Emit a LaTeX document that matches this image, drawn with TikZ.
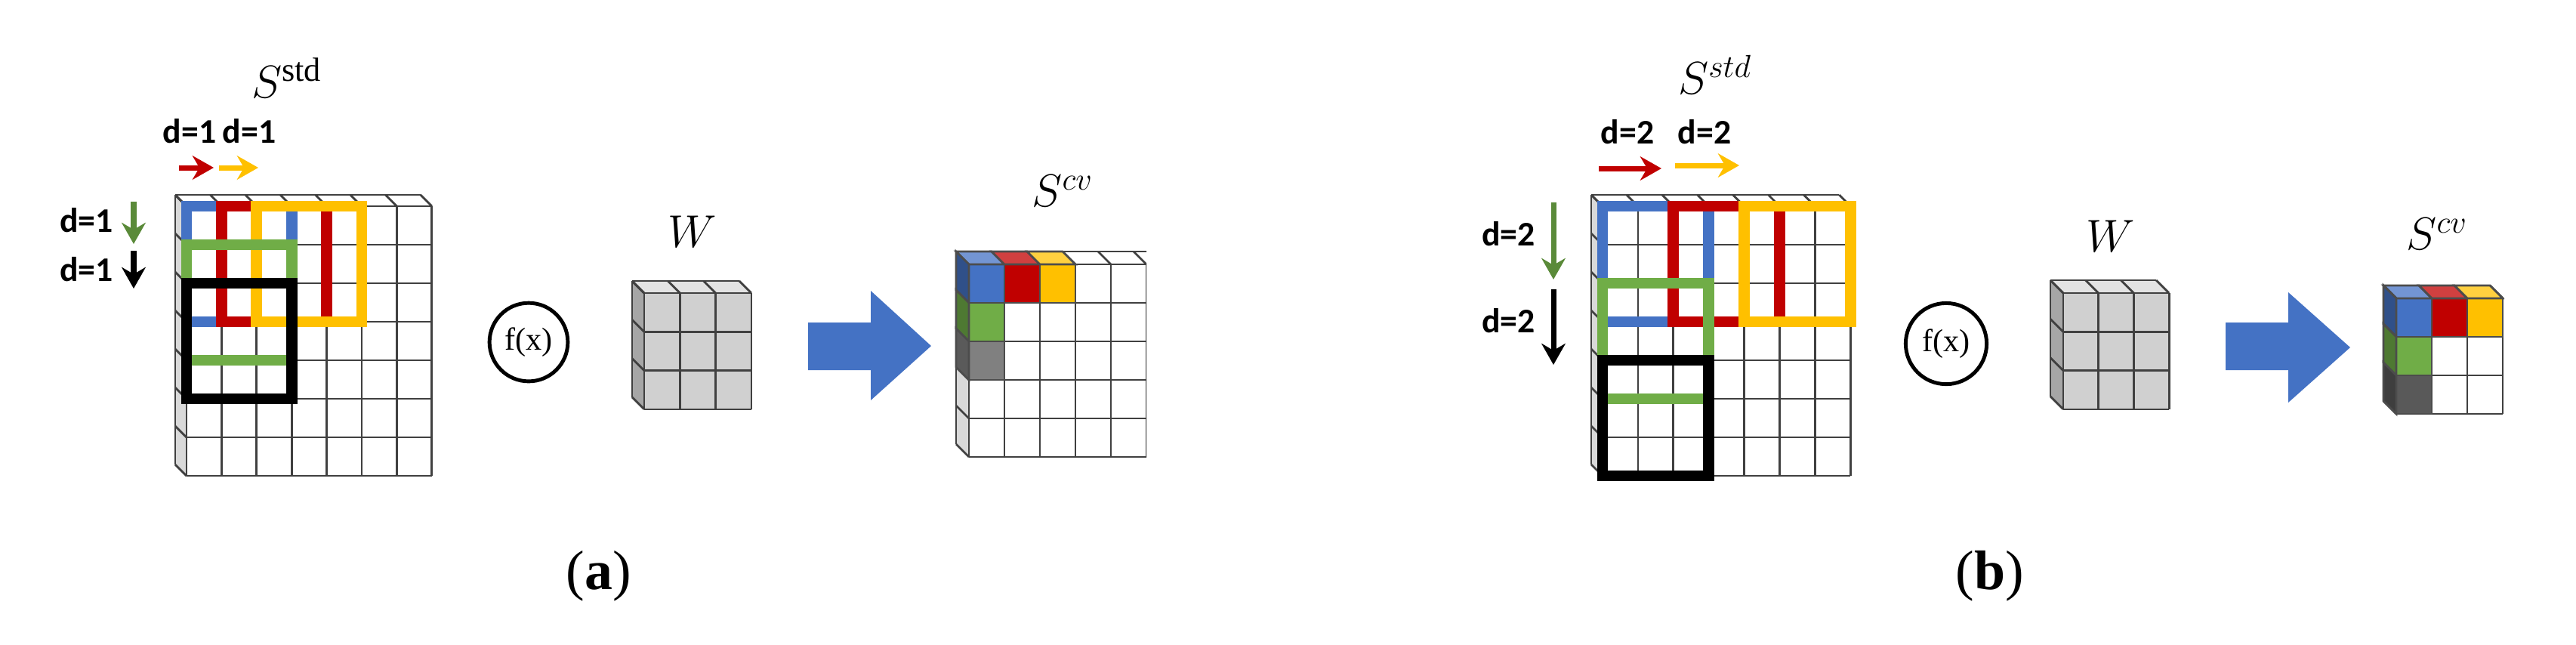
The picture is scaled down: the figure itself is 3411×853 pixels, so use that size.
\documentclass[tikz,border=0pt]{standalone}
\usepackage{fontspec}
\setmainfont{Liberation Serif}
\newfontfamily\labfont{Carlito}
\definecolor{cblue}{HTML}{4472C4}
\definecolor{cred}{HTML}{C00000}
\definecolor{cyel}{HTML}{FFC000}
\definecolor{cgreen}{HTML}{70AD47}
\definecolor{cgray}{HTML}{808080}
\definecolor{cdark}{HTML}{595959}
\definecolor{wgray}{HTML}{D0D0D0}
\tikzset{
  gl/.style={draw=black!75,line width=0.8pt},
  win/.style={line width=4.2pt},
  dlab/.style={font=\labfont\bfseries\fontsize{13}{14}\selectfont},
  slab/.style={font=\fontsize{18}{20}\selectfont},
  caplab/.style={font=\fontsize{21}{24}\selectfont},
  darr/.style={line width=2pt,-{Stealth[length=8pt,width=9pt]}},
  fcirc/.style={draw,circle,line width=1.4pt,inner sep=0pt,font=\fontsize{12}{12}\selectfont},
  bigarrow/.style={fill=cblue}
}
\usetikzlibrary{arrows.meta}
% x0 y0 ncol nrow cw rh depth sidefill frontfill
\newcommand\cgrid[9]{%
  \fill[#8] (#1,#2) -- ++(-#7,-#7) -- ++(0,#4*#6) -- (#1,#2+#4*#6) -- cycle;
  \fill[#9!60!white] (#1,#2) -- ++(-#7,-#7) -- ++(#3*#5,0) -- (#1+#3*#5,#2) -- cycle;
  \fill[#9] (#1,#2) rectangle (#1+#3*#5,#2+#4*#6);
  \foreach \i in {0,...,#3}{\draw[gl] (#1+\i*#5,#2) -- ++(0,#4*#6);
    \draw[gl] (#1+\i*#5,#2) -- ++(-#7,-#7);}
  \foreach \j in {0,...,#4}{\draw[gl] (#1,#2+\j*#6) -- ++(#3*#5,0);
    \draw[gl] (#1,#2+\j*#6) -- ++(-#7,-#7);}
  \draw[gl] (#1-#7,#2-#7) -- ++(#3*#5,0);
  \draw[gl] (#1-#7,#2-#7) -- ++(0,#4*#6);
}
% colored cube cell: x y w h d color top? side?
\newcommand\ccell[8]{%
  \filldraw[fill=#6,draw=black!70,line width=0.8pt] (#1,#2) rectangle ++(#3,#4);
  \ifnum#7=1 \filldraw[fill=#6!75!white,draw=black!70,line width=0.8pt] (#1,#2) -- ++(-#5,-#5) -- ++(#3,0) -- (#1+#3,#2) -- cycle;\fi
  \ifnum#8=1 \filldraw[fill=#6!70!black,draw=black!70,line width=0.8pt] (#1,#2) -- ++(-#5,-#5) -- ++(0,#4) -- (#1,#2+#4) -- cycle;\fi
}
\begin{document}
\begin{tikzpicture}[x=0.01cm,y=-0.01cm]
\useasboundingbox (0,0) rectangle (3411,853);
% ================= (a) =================
\cgrid{247}{273}{7}{7}{46.4}{51}{15}{black!15}{white}
\draw[win,cblue] (247,273) rectangle (386.2,426);
\draw[win,cred] (293.4,273) rectangle (432.6,426);
\draw[win,cyel] (339.8,273) rectangle (479,426);
\draw[win,cgreen] (247,324) rectangle (386.2,477);
\draw[win,black] (247,375) rectangle (386.2,528);
\node[slab] (sa) at (380,103) {$S^{\mathrm{std}}$};
\node[dlab] (da1) at (251,174) {d=1};
\node[dlab] (da2) at (330,174) {d=1};
\coordinate (ra1) at (237,222); \coordinate (ra2) at (283,222);
\coordinate (ya1) at (290,222); \coordinate (ya2) at (342,222);
\draw[darr,cred] (ra1) -- (ra2);
\draw[darr,cyel] (ya1) -- (ya2);
\node[dlab,anchor=east] (dva1) at (162,292) {d=1};
\node[dlab,anchor=east] (dva2) at (162,357) {d=1};
\coordinate (ga1) at (177,267); \coordinate (ga2) at (177,323);
\coordinate (ka1) at (177,332); \coordinate (ka2) at (177,382);
\draw[darr,cgreen!80!black] (ga1) -- (ga2);
\draw[darr,black] (ka1) -- (ka2);
\node[fcirc,minimum size=29.5pt] (fa) at (700,453) {f(x)};
\cgrid{853}{388}{3}{3}{47.3}{51.3}{16}{black!35}{wgray}
\node[slab] (wa) at (917,307) {$W$};
\fill[bigarrow] (1070,427) -- (1153,427) -- (1153,385) -- (1233,458) -- (1153,530) -- (1153,490) -- (1070,490) -- cycle;
\begin{scope}
\clip (1200,300) rectangle (1518,620);
\cgrid{1283}{350}{6}{5}{47}{51}{17}{black!15}{white}
\end{scope}
\ccell{1283}{350}{47}{51}{17}{cblue}{1}{1}
\ccell{1330}{350}{47}{51}{17}{cred}{1}{0}
\ccell{1377}{350}{47}{51}{17}{cyel}{1}{0}
\ccell{1283}{401}{47}{51}{17}{cgreen}{0}{1}
\ccell{1283}{452}{47}{51}{17}{cgray}{0}{1}
\node[slab] (sca) at (1407,253) {$S^{cv}$};
\node[caplab] (capa) at (793,763) {(\textbf{a})};
% ================= (b) =================
\cgrid{2122}{273}{7}{7}{46.9}{51}{15}{black!15}{white}
\draw[win,cblue] (2122,273) rectangle (2262.7,426);
\draw[win,cred] (2215.8,273) rectangle (2356.5,426);
\draw[win,cyel] (2309.6,273) rectangle (2450.3,426);
\draw[win,cgreen] (2122,375) rectangle (2262.7,528);
\draw[win,black] (2122,477) rectangle (2262.7,630);
\node[slab] (sb) at (2271,99) {$S^{std}$};
\node[dlab] (db1) at (2155,175) {d=2};
\node[dlab] (db2) at (2257,175) {d=2};
\coordinate (rb1) at (2117,223); \coordinate (rb2) at (2200,223);
\coordinate (yb1) at (2218,219); \coordinate (yb2) at (2303,219);
\draw[darr,cred] (rb1) -- (rb2);
\draw[darr,cyel] (yb1) -- (yb2);
\node[dlab,anchor=east] (dvb1) at (2045,310) {d=2};
\node[dlab,anchor=east] (dvb2) at (2045,425) {d=2};
\coordinate (gb1) at (2057,268); \coordinate (gb2) at (2057,370);
\coordinate (kb1) at (2057,383); \coordinate (kb2) at (2057,483);
\draw[darr,cgreen!80!black] (gb1) -- (gb2);
\draw[darr,black] (kb1) -- (kb2);
\node[fcirc,minimum size=30.5pt] (fb) at (2577,455) {f(x)};
\cgrid{2732}{388}{3}{3}{46.7}{51.3}{17}{black!35}{wgray}
\node[slab] (wb) at (2795,313) {$W$};
\fill[bigarrow] (2947,427) -- (3030,427) -- (3030,387) -- (3112,460) -- (3030,533) -- (3030,490) -- (2947,490) -- cycle;
\begin{scope}
\clip (3100,300) rectangle (3316,620);
\cgrid{3173}{395}{3}{3}{47}{51}{17}{black!15}{white}
\ccell{3173}{395}{47}{51}{17}{cblue}{1}{1}
\ccell{3220}{395}{47}{51}{17}{cred}{1}{0}
\ccell{3267}{395}{47}{51}{17}{cyel}{1}{0}
\ccell{3173}{446}{47}{51}{17}{cgreen}{0}{1}
\ccell{3173}{497}{47}{51}{17}{cdark}{0}{1}
\end{scope}
\node[slab] (scb) at (3227,310) {$S^{cv}$};
\node[caplab] (capb) at (2635,763) {(\textbf{b})};
\end{tikzpicture}
\end{document}
